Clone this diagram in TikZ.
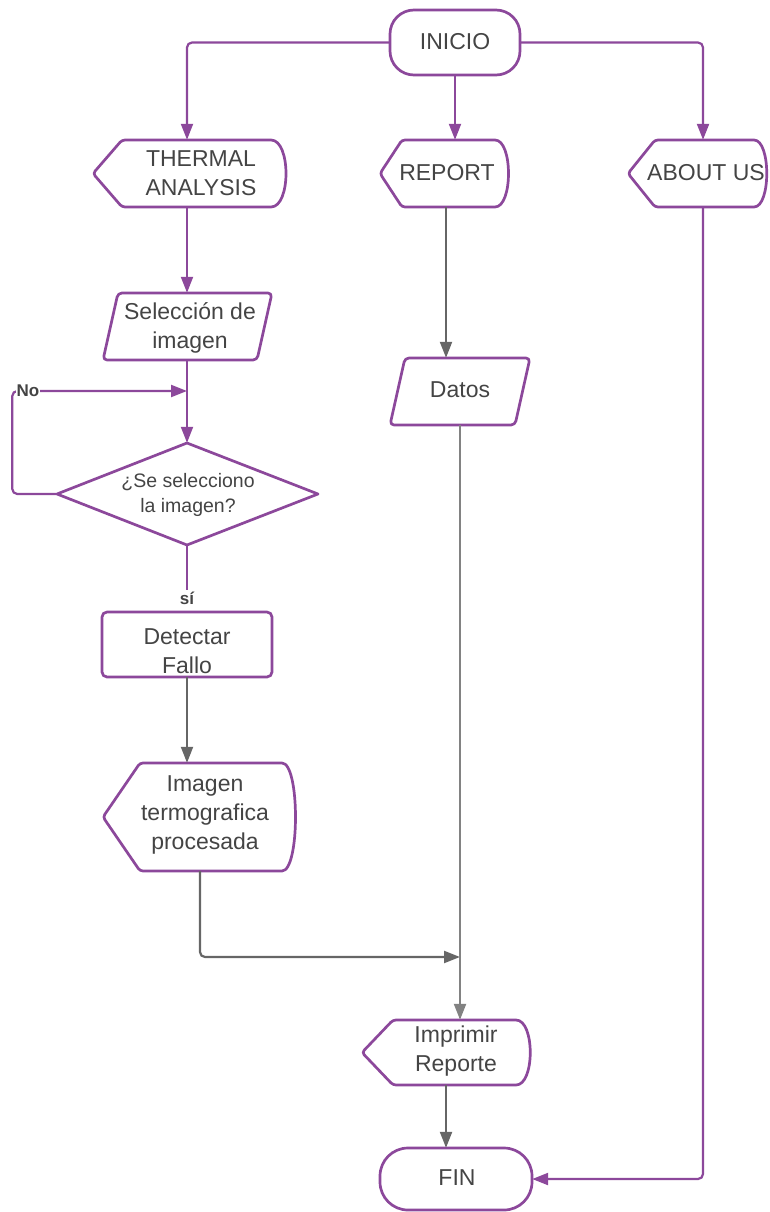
\documentclass[tikz,border=0pt]{standalone}
\usepackage{fontspec}
\setmainfont{Liberation Sans}
\usetikzlibrary{arrows.meta,calc}
\definecolor{pur}{RGB}{140,72,155}
\definecolor{gr}{RGB}{102,102,102}
\definecolor{lgr}{RGB}{130,130,130}
\definecolor{tx}{RGB}{68,68,68}
\tikzset{
  box/.style={draw=none, inner sep=0pt, minimum width=#1},
  box/.default=100pt,
  txt/.style={font=\fontsize{23pt}{29pt}\selectfont, text=tx, align=center, inner sep=0pt},
  small/.style={font=\fontsize{19.5pt}{25pt}\selectfont, text=tx, align=center, inner sep=0pt},
  lbl/.style={font=\bfseries\fontsize{17pt}{19pt}\selectfont, text=tx, fill=white, inner sep=1pt},
  shp/.style={draw=pur, line width=2.7pt, line join=round},
  pline/.style={draw=pur, line width=2.2pt, rounded corners=5pt},
  gline/.style={draw=gr, line width=2.2pt, rounded corners=5pt},
  arr/.style={-{Triangle[length=16pt,width=12pt]}},
}
\begin{document}
\begin{tikzpicture}[x=1pt,y=-1pt]
\useasboundingbox (0,0) rectangle (769,1212);
% ---- outlines ----
\draw[shp, rounded corners=24pt] (390,10) rectangle (520,75);
\draw[shp, rounded corners=3pt] (93,173.5) -- (122,140) -- (268,140) .. controls (291,140) and (291,207) .. (268,207) -- (122,207) -- cycle;
\draw[shp, rounded corners=3pt] (380,173.5) -- (402,140) -- (492,140) .. controls (513,140) and (513,207) .. (492,207) -- (402,207) -- cycle;
\draw[shp, rounded corners=3pt] (628,173.5) -- (655,140) -- (751,140) .. controls (771,140) and (771,207) .. (751,207) -- (655,207) -- cycle;
\draw[shp, rounded corners=4pt] (118,293) -- (272,293) -- (257,360) -- (103,360) -- cycle;
\draw[shp] (187,443) -- (318,494) -- (187,545) -- (57,494) -- cycle;
\draw[shp, rounded corners=5pt] (102,612) rectangle (272,677);
\draw[shp, rounded corners=3pt] (103,817) -- (140,763) -- (279,763) .. controls (300,763) and (300,871) .. (279,871) -- (140,871) -- cycle;
\draw[shp, rounded corners=4pt] (405,358) -- (530,358) -- (515,425) -- (390,425) -- cycle;
\draw[shp, rounded corners=3pt] (362,1052.5) -- (393,1020) -- (513,1020) .. controls (535,1020) and (535,1085) .. (513,1085) -- (393,1085) -- cycle;
\draw[shp, rounded corners=28pt] (380,1148) rectangle (532,1210);
% ---- nodes ----
\node[box=130pt, minimum height=65pt] (inicio) at (455,42.5) {};
\node[txt] (inicioT) at (455,42) {INICIO};
\node[box=193pt, minimum height=67pt] (thermal) at (189.5,173.5) {};
\node[txt] (thermalT) at (201,173) {THERMAL\\ANALYSIS};
\node[box=128pt, minimum height=67pt] (report) at (444,173.5) {};
\node[txt] (reportT) at (447,173) {REPORT};
\node[box=140pt, minimum height=67pt] (about) at (698,173.5) {};
\node[txt] (aboutT) at (706,173) {ABOUT US};
\node[box=169pt, minimum height=67pt] (sel) at (187.5,326.5) {};
\node[txt] (selT) at (190,328) {Selección de\\imagen};
\node[box=261pt, minimum height=102pt] (dia) at (187,494) {};
\node[small] (diaT) at (188,494.5) {¿Se selecciono\\la imagen?};
\node[box=170pt, minimum height=65pt] (detect) at (187,644.5) {};
\node[txt] (detectT) at (187,651) {Detectar\\Fallo};
\node[box=192pt, minimum height=108pt] (imagen) at (199,817) {};
\node[txt] (imagenT) at (205,815) {Imagen\\termografica\\procesada};
\node[box=140pt, minimum height=67pt] (datos) at (460,391.5) {};
\node[txt] (datosT) at (460,390) {Datos};
\node[box=170pt, minimum height=65pt] (impr) at (447,1052.5) {};
\node[txt] (imprT) at (456,1051) {Imprimir\\Reporte};
\node[box=152pt, minimum height=62pt] (fin) at (456,1179) {};
\node[txt] (finT) at (457,1178) {FIN};
\coordinate (noin) at (187,391);
\coordinate (join) at (460,957);
% ---- connectors ----
\draw[pline, arr] (inicio.west) -| ([xshift=-2.5pt]thermal.north);
\draw[pline, arr] (inicio.south) -- ([xshift=11pt]report.north);
\draw[pline, arr] (inicio.east) -| ([xshift=5pt]about.north);
\draw[pline, arr] ([xshift=-2.5pt]thermal.south) -- ([xshift=-0.5pt]sel.north);
\draw[pline, arr] ([xshift=-0.5pt]sel.south) -- (dia.north);
\draw[pline, arr] (dia.west) -- ++(-44,0) |- (noin);
\node[lbl] (no) at (28,391) {No};
\node[lbl] (si) at (187,598) {sí};
\draw[pline] (dia.south) -- (si.north);
\draw[pline, arr] ([xshift=5pt]about.south) |- (fin.east);
\draw[gline, arr] ([xshift=2pt]report.south) -- ([xshift=-14pt]datos.north);
\draw[gline, arr] (detect.south) -- ([xshift=-12pt]imagen.north);
\draw[gline, arr] ([xshift=1pt]imagen.south) |- (join);
\draw[draw=lgr, line width=2.2pt, arr] (datos.south) -- ([xshift=13pt]impr.north);
\draw[gline, arr] ([xshift=-1pt]impr.south) -- ([xshift=-10pt]fin.north);
\end{tikzpicture}
\end{document}
